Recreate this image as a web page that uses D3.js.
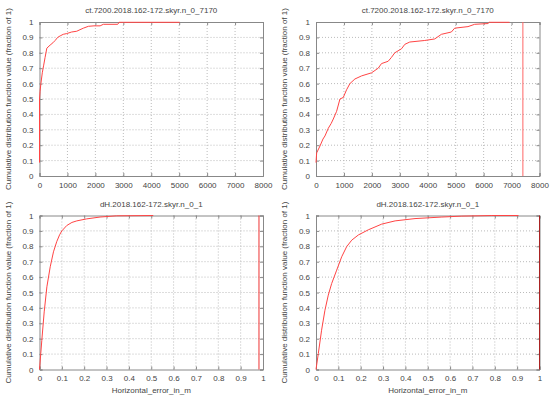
<!DOCTYPE html>
<html>
<head>
<meta charset="utf-8">
<script src="https://cdn.jsdelivr.net/npm/d3@7"></script>
<style>
  body { margin: 0; background: #fff; }
  text { font-family: "Liberation Sans", Arial, sans-serif; fill: #444; }
</style>
</head>
<body>
<script>
// --- data ---
let titleCt = "ct.7200.2018.162-172.skyr.n_0_7170",
    titleDh = "dH.2018.162-172.skyr.n_0_1";
let yLabel = "Cumulative distribution function value (fraction of 1)",
    xLabelDh = "Horizontal_error_in_m";

let yTicks = [0, 0.1, 0.2, 0.3, 0.4, 0.5, 0.6, 0.7, 0.8, 0.9, 1];
let ctTicks = [0, 1000, 2000, 3000, 4000, 5000, 6000, 7000, 8000];
let dhTicks = [0, 0.1, 0.2, 0.3, 0.4, 0.5, 0.6, 0.7, 0.8, 0.9, 1];

// top-left
let ctX1 = [0, 0, 20, 50, 100, 150, 200, 262, 380, 480, 560, 650, 740, 850, 976, 1150, 1333, 1450, 1570, 1750, 1950, 2170, 2285, 2800, 2850, 3000, 5020];
let ctY1 = [0.087, 0.5, 0.55, 0.6, 0.67, 0.72, 0.77, 0.83, 0.85, 0.865, 0.88, 0.9, 0.91, 0.92, 0.925, 0.935, 0.94, 0.95, 0.96, 0.972, 0.975, 0.975, 0.985, 0.985, 0.998, 0.998, 0.998];
// top-right
let ctX2 = [0, 24, 143, 250, 321, 440, 540, 619, 738, 857, 976, 1095, 1214, 1393, 1631, 1988, 2226, 2345, 2583, 2700, 2821, 3060, 3179, 3357, 3893, 4250, 4488, 4845, 4964, 5440, 5679, 6155, 6200, 6929];
let ctY2 = [0.087, 0.15, 0.195, 0.24, 0.26, 0.31, 0.34, 0.37, 0.42, 0.5, 0.51, 0.56, 0.6, 0.63, 0.65, 0.67, 0.7, 0.73, 0.745, 0.77, 0.8, 0.826, 0.855, 0.87, 0.88, 0.89, 0.92, 0.935, 0.96, 0.97, 0.985, 0.99, 0.998, 0.998];
let ctMark2 = 7405;
// bottom-left
let dhX1 = [0, 0.0104, 0.021, 0.033, 0.048, 0.0625, 0.077, 0.09, 0.1, 0.122, 0.145, 0.167, 0.211, 0.271, 0.345, 0.509];
let dhY1 = [0, 0.19, 0.374, 0.537, 0.667, 0.764, 0.83, 0.875, 0.9, 0.935, 0.955, 0.965, 0.978, 0.99, 0.998, 1];
let dhMark1 = 0.982;
// bottom-right
let dhX2 = [0, 0.0104, 0.025, 0.04, 0.055, 0.07, 0.0925, 0.115, 0.137, 0.16, 0.19, 0.234, 0.294, 0.354, 0.443, 0.563, 0.652, 0.787, 0.906];
let dhY2 = [0, 0.104, 0.255, 0.385, 0.483, 0.558, 0.645, 0.732, 0.797, 0.84, 0.874, 0.907, 0.944, 0.965, 0.98, 0.99, 0.996, 1, 1];
let dhMark2 = 1;

let svg = d3.select("body").append("svg")
    .attr("width", 550)
    .attr("height", 397);

function panel(o) {
  let x = d3.scaleLinear().domain(o.xDomain).range([o.left, o.right]);
  let y = d3.scaleLinear().domain([0, 1]).range([o.bottom, o.top]);
  let g = svg.append("g");

  // dotted grid
  g.selectAll(".gx").data(o.xTicks.slice(1, -1)).enter().append("line")
    .attr("x1", d => x(d)).attr("x2", d => x(d))
    .attr("y1", o.top).attr("y2", o.bottom)
    .attr("stroke", "#bbb").attr("stroke-width", 1).attr("stroke-dasharray", "1,2");
  g.selectAll(".gy").data(yTicks.slice(1, -1)).enter().append("line")
    .attr("x1", o.left).attr("x2", o.right)
    .attr("y1", d => y(d)).attr("y2", d => y(d))
    .attr("stroke", "#bbb").attr("stroke-width", 1).attr("stroke-dasharray", "1,2");

  // axes with inward ticks (gnuplot style)
  let ax = g.append("g").attr("transform", "translate(0," + o.bottom + ")")
    .call(d3.axisBottom(x).tickValues(o.xTicks).tickSize(-3).tickPadding(6).tickFormat(d3.format("")));
  let ay = g.append("g").attr("transform", "translate(" + o.left + ",0)")
    .call(d3.axisLeft(y).tickValues(yTicks).tickSize(-3).tickPadding(6).tickFormat(d3.format("")));
  let at = g.append("g").attr("transform", "translate(0," + o.top + ")")
    .call(d3.axisTop(x).tickValues(o.xTicks).tickSize(-3).tickFormat(""));
  let ar = g.append("g").attr("transform", "translate(" + o.right + ",0)")
    .call(d3.axisRight(y).tickValues(yTicks).tickSize(-3).tickFormat(""));
  [ax, ay, at, ar].forEach(a => {
    a.select(".domain").attr("stroke", "#888");
    a.selectAll(".tick line").attr("stroke", "#888");
    a.selectAll(".tick text").style("font-size", "8px").attr("fill", "#444");
  });

  // title + labels
  g.append("text").attr("x", (o.left + o.right) / 2).attr("y", o.top - 9)
    .attr("text-anchor", "middle").style("font-size", "8px").text(o.title);
  g.append("text")
    .attr("transform", "translate(" + (o.left - 29) + "," + ((o.top + o.bottom) / 2) + ") rotate(-90)")
    .attr("text-anchor", "middle").style("font-size", "8px").text(yLabel);
  if (o.xLabel) {
    g.append("text").attr("x", (o.left + o.right) / 2).attr("y", o.bottom + 23)
      .attr("text-anchor", "middle").style("font-size", "8px").text(o.xLabel);
  }

  // marker line
  if (o.mark != null) {
    g.append("line")
      .attr("x1", x(o.mark)).attr("x2", x(o.mark))
      .attr("y1", o.top).attr("y2", o.bottom)
      .attr("stroke", o.markColor).attr("stroke-width", 1);
  }

  // cdf curve
  let pts = d3.zip(o.xs, o.ys);
  let line = d3.line().x(d => x(d[0])).y(d => y(d[1])).curve(o.curve);
  g.append("path").datum(pts)
    .attr("d", line)
    .attr("fill", "none")
    .attr("stroke", "#f44")
    .attr("stroke-width", 1);
}

panel({left: 39.5, right: 263, top: 22, bottom: 176, xDomain: [0, 8000], xTicks: ctTicks,
       title: titleCt, xs: ctX1, ys: ctY1, curve: d3.curveLinear});
panel({left: 316, right: 539.5, top: 22, bottom: 176, xDomain: [0, 8000], xTicks: ctTicks,
       title: titleCt, xs: ctX2, ys: ctY2, curve: d3.curveLinear, mark: ctMark2, markColor: "#f66"});
panel({left: 39.5, right: 263, top: 215.5, bottom: 369.5, xDomain: [0, 1], xTicks: dhTicks,
       title: titleDh, xLabel: xLabelDh, xs: dhX1, ys: dhY1, curve: d3.curveLinear, mark: dhMark1, markColor: "#e33"});
panel({left: 316, right: 539.5, top: 215.5, bottom: 369.5, xDomain: [0, 1], xTicks: dhTicks,
       title: titleDh, xLabel: xLabelDh, xs: dhX2, ys: dhY2, curve: d3.curveLinear, mark: dhMark2, markColor: "#a22"});
</script>
</body>
</html>
